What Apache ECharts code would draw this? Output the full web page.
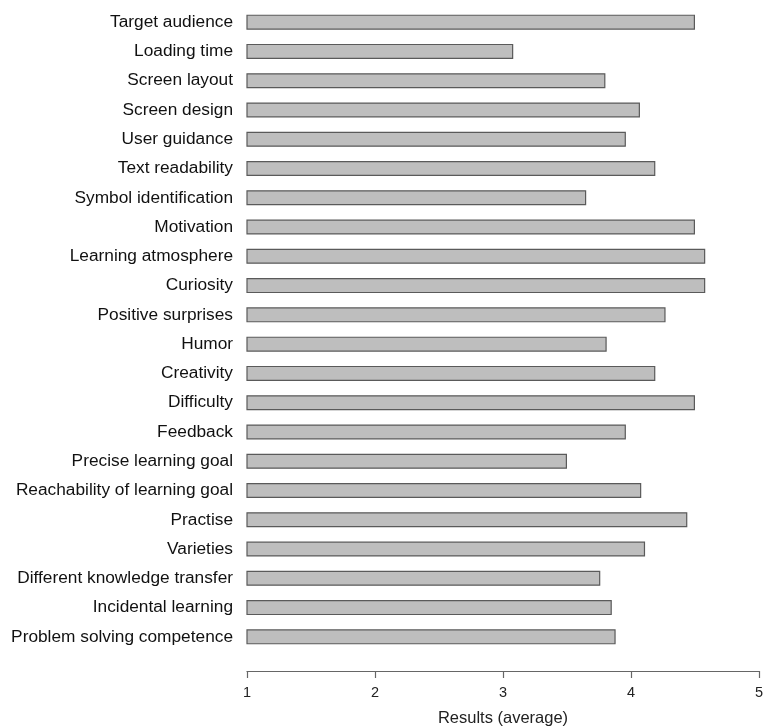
<!DOCTYPE html>
<html>
<head>
<meta charset="utf-8">
<script src="https://cdn.jsdelivr.net/npm/echarts@6/dist/echarts.min.js"></script>
<style>html,body{margin:0;padding:0;background:#fff}#c{width:763px;height:727px}</style>
</head>
<body>
<div id="c"></div>
<script>
const categories = ["Target audience","Loading time","Screen layout","Screen design","User guidance","Text readability","Symbol identification","Motivation","Learning atmosphere","Curiosity","Positive surprises","Humor","Creativity","Difficulty","Feedback","Precise learning goal","Reachability of learning goal","Practise","Varieties","Different knowledge transfer","Incidental learning","Problem solving competence"];
const values = [4.50,3.08,3.80,4.07,3.96,4.19,3.65,4.50,4.58,4.58,4.27,3.81,4.19,4.50,3.96,3.50,4.08,4.44,4.11,3.76,3.85,3.88];
const xTicks = [1,2,3,4,5];
const axisTitle = "Results (average)";

const chart = echarts.init(document.getElementById('c'));
chart.setOption({
  animation:false,
  backgroundColor:'#fff',
  grid:{left:247,right:4,top:7.5,bottom:75.5,containLabel:false,outerBoundsMode:'none'},
  xAxis:{
    type:'value',min:xTicks[0],max:xTicks[xTicks.length-1],interval:1,
    offset:19.5,
    axisLine:{show:true,lineStyle:{color:'#666',width:1.2}},
    axisTick:{show:true,length:7,lineStyle:{color:'#666',width:1.2}},
    splitLine:{show:false},
    axisLabel:{color:'#222',fontSize:14.5,fontFamily:'Liberation Sans, Arial, sans-serif',margin:14.5},
    name:axisTitle,nameLocation:'middle',nameGap:39,
    nameTextStyle:{color:'#222',fontSize:16.5,fontFamily:'Liberation Sans, Arial, sans-serif'}
  },
  yAxis:{
    type:'category',data:categories,inverse:true,
    axisLine:{show:false},axisTick:{show:false},splitLine:{show:false},
    axisLabel:{color:'#111',fontSize:17.3,fontFamily:'Liberation Sans, Arial, sans-serif',margin:14}
  },
  series:[{
    type:'bar',data:values,barWidth:15,
    itemStyle:{color:'#bebebe',borderColor:'#5a5a5a',borderWidth:1.2}
  }]
});
</script>
</body>
</html>
